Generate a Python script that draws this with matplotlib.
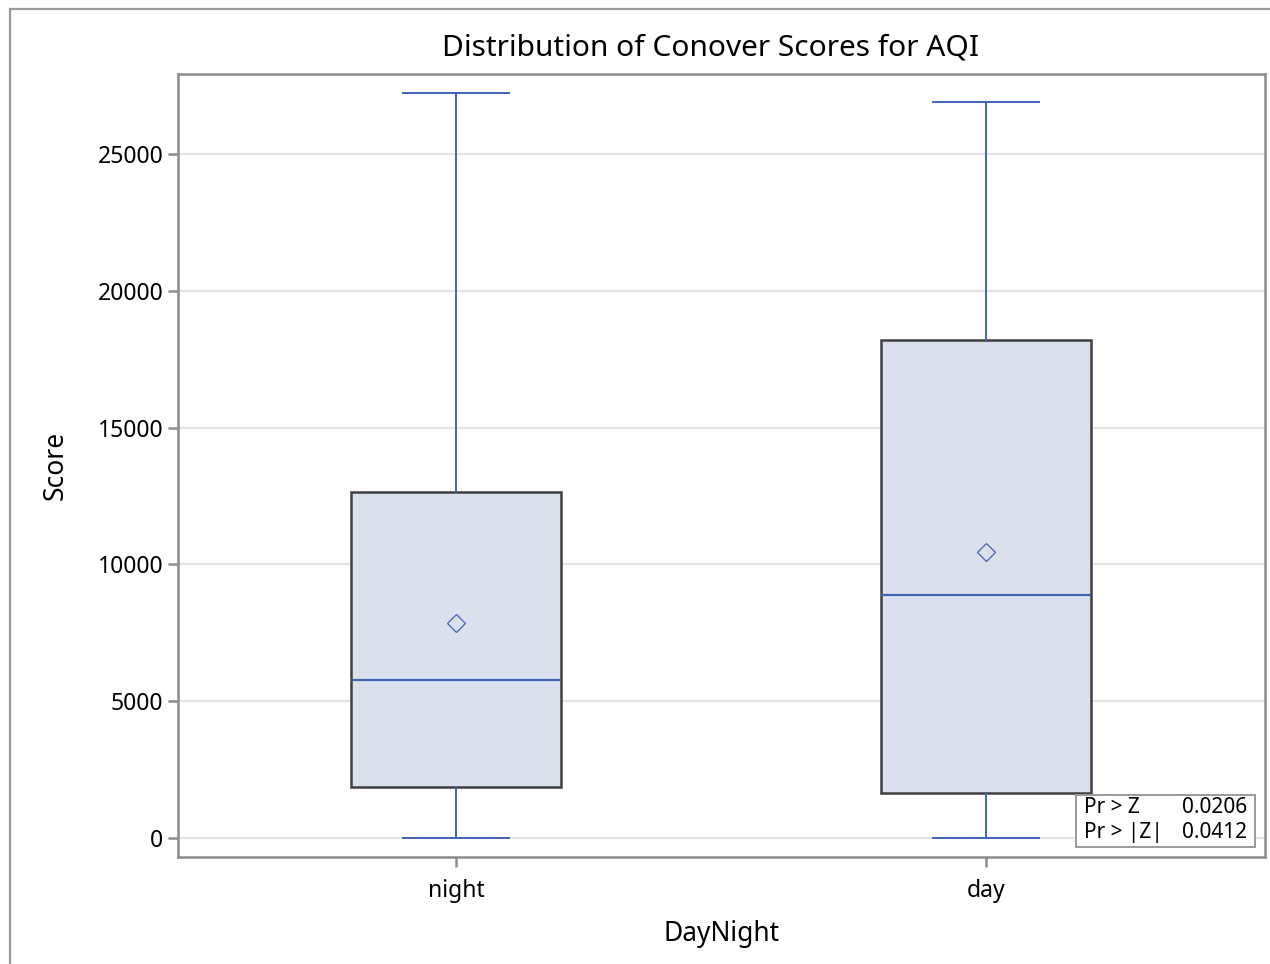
import matplotlib.pyplot as plt
from matplotlib.patches import Rectangle

plt.rcParams['font.family'] = ['Noto Sans', 'DejaVu Sans']

groups = ['night', 'day']
whislo = [0, 0]
q1 = [1864, 1645]
med = [5775, 8882]
q3 = [12646, 18202]
whishi = [27230, 26900]
means = [7858, 10453]

stat_labels = ['Pr > Z', 'Pr > |Z|']
stat_values = ['0.0206', '0.0412']

blue = '#3f63b5'
edge = '#404040'
fill = '#dae0ec'
spine = '#8c8c8c'

stats = []
for i in range(len(groups)):
    stats.append({'label': groups[i], 'whislo': whislo[i], 'q1': q1[i], 'med': med[i],
                  'q3': q3[i], 'whishi': whishi[i], 'mean': means[i], 'fliers': []})

fig = plt.figure(figsize=(12.7, 9.64), dpi=100)
ax = fig.add_axes([178 / 1270, 1 - 857 / 964, 1087 / 1270, 783 / 964])

# outer frame (only top/left visible in the reference)
fig.patches.append(Rectangle((10 / 1270, -0.1), 1.2, 1.1 - 9 / 964, transform=fig.transFigure,
                             fill=False, edgecolor='#9a9a9a', lw=1.6, clip_on=False))

ax.bxp(stats, positions=[0, 1], widths=0.396, capwidths=0.2, patch_artist=True, showmeans=True,
       boxprops=dict(facecolor=fill, edgecolor=edge, lw=1.8),
       whiskerprops=dict(color=blue, lw=1.4),
       capprops=dict(color=blue, lw=1.4),
       medianprops=dict(color=blue, lw=1.6),
       meanprops=dict(marker='D', markersize=9, markerfacecolor='none',
                      markeredgecolor=blue, markeredgewidth=0.9),
       zorder=3)

ax.set_xlim(-0.5245, 1.5264)
ax.set_ylim(-694, 27924)
ax.set_yticks([0, 5000, 10000, 15000, 20000, 25000])
ax.set_xticks([0, 1])
ax.set_xticklabels(groups)
ax.grid(axis='y', color='#e3e3e3', lw=1.5, zorder=0)
ax.set_axisbelow(True)

for s in ax.spines.values():
    s.set_color(spine)
    s.set_linewidth(1.8)
ax.tick_params(colors=spine, labelcolor='black', labelsize=16.5, length=7, width=1.8)
ax.tick_params(axis='x', pad=9)

ax.set_title('Distribution of Conover Scores for AQI', fontsize=21.5, pad=13, x=0.4903)
ax.set_xlabel('DayNight', fontsize=19, labelpad=12)
ax.set_ylabel('Score', fontsize=19, labelpad=20)

# statistics inset
ax.add_patch(Rectangle((0.826, 0.0128), 0.9908 - 0.826, 0.0664, transform=ax.transAxes,
                       facecolor='white', edgecolor='#9a9a9a', lw=1.4, zorder=5))
row_y = [0.0626, 0.0307]
for lab, val, y in zip(stat_labels, stat_values, row_y):
    ax.text(0.8335, y, lab, transform=ax.transAxes, fontsize=15, va='center', ha='left', zorder=6)
    ax.text(0.9834, y, val, transform=ax.transAxes, fontsize=15, va='center', ha='right', zorder=6)

plt.savefig('out.png', dpi=100)
